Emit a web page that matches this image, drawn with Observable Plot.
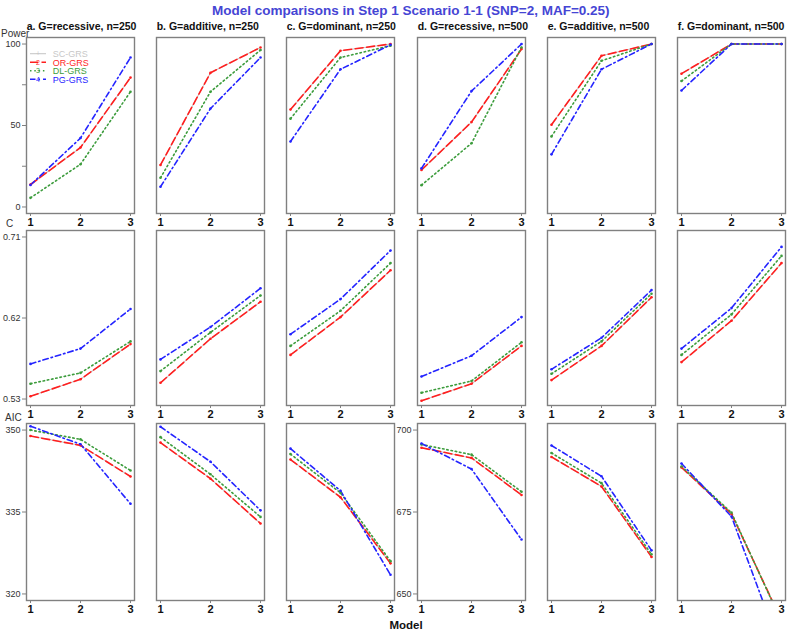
<!DOCTYPE html>
<html><head><meta charset="utf-8">
<script src="https://cdn.jsdelivr.net/npm/d3@7"></script>
<script src="https://cdn.jsdelivr.net/npm/@observablehq/plot@0.6"></script>
<style>
body{margin:0;background:#fff;font-family:"Liberation Sans",Arial,sans-serif;}
#wrap{position:relative;width:789px;height:630px;overflow:hidden;background:#fff;}
#wrap > svg, #wrap > div{position:absolute;}
</style></head><body><div id="wrap"></div>
<script>
// ---------- data ----------
const models = [1, 2, 3];
const panelTitles = ["a. G=recessive, n=250", "b. G=additive, n=250", "c. G=dominant, n=250",
                     "d. G=recessive, n=500", "e. G=additive, n=500", "f. G=dominant, n=500"];
const mainTitle = "Model comparisons in Step 1 Scenario 1-1 (SNP=2, MAF=0.25)";
const seriesNames = ["SC-GRS", "OR-GRS", "DL-GRS", "PG-GRS"];
const legendSymbols = ["+", "2", "3", "4"];
const rowLabels = ["Power", "C", "AIC"];
const xLabel = "Model";

// Power (per panel a..f, models 1..3)
const powerSC = [[13.8,36.5,79.4],[25.8,82.4,97.9],[59.8,95.9,100],[22.7,52.1,96.9],[50.5,92.8,100],[81.8,100,100]];
const powerOR = [[13.8,36.5,79.4],[25.8,82.4,97.9],[59.8,95.9,100],[22.7,52.1,96.9],[50.5,92.8,100],[81.8,100,100]];
const powerDL = [[5.6,26.2,70.7],[17.9,70.7,96.3],[54.2,91.7,99.0],[13.4,39.1,97.9],[43.3,89.7,100],[77.3,100,100]];
const powerPG = [[13.5,42.3,91.7],[12.4,60.4,91.7],[40.2,84.5,99.5],[23.7,71.1,100],[32.3,84.5,100],[71.5,100,100]];

// C statistic
const cSC = [[0.533,0.552,0.591],[0.548,0.597,0.638],[0.579,0.621,0.673],[0.528,0.547,0.589],[0.551,0.589,0.643],[0.571,0.617,0.681]];
const cOR = [[0.533,0.552,0.591],[0.548,0.597,0.638],[0.579,0.621,0.673],[0.528,0.547,0.589],[0.551,0.589,0.643],[0.571,0.617,0.681]];
const cDL = [[0.547,0.559,0.594],[0.561,0.604,0.645],[0.589,0.628,0.681],[0.537,0.550,0.593],[0.558,0.594,0.647],[0.579,0.624,0.689]];
const cPG = [[0.569,0.586,0.630],[0.574,0.610,0.653],[0.602,0.641,0.695],[0.555,0.578,0.621],[0.563,0.598,0.651],[0.586,0.631,0.699]];

// AIC
const aicSC = [[348.9,347.2,341.5],[347.7,341.1,332.9],[344.6,337.7,325.6],[694.6,691.5,680.2],[691.8,682.8,661.3],[688.6,674.4,641.9]];
const aicOR = [[348.9,347.2,341.5],[347.7,341.1,332.9],[344.6,337.7,325.6],[694.6,691.5,680.2],[691.8,682.8,661.3],[688.6,674.4,641.9]];
const aicDL = [[350.0,348.3,342.6],[348.7,341.9,334.1],[345.6,338.5,326.0],[695.6,692.5,681.2],[693.0,683.8,662.1],[688.9,674.8,641.5]];
const aicPG = [[350.7,347.4,336.5],[350.6,344.2,335.3],[346.6,338.9,323.5],[695.9,688.1,666.6],[695.3,685.9,663.3],[689.8,673.6,632.5]];

// axis ticks
const powerTicks = [0, 25, 50, 75, 100];
const powerTickLabels = [0, 50, 100];
const cTicks = [0.53, 0.62, 0.71];
const aicTicksSmall = [320, 335, 350];
const aicTicksLarge = [650, 675, 700];

// ---------- styles / layout ----------
const colors = ["#c8c8c8", "#ff1f1f", "#3c9c3c", "#2424ff"];
const dashes = [null, "8,3.5", "1.5,2.8", "5.5,3,1.5,3"];
const widths = [1.1, 1.6, 1.6, 1.6];
const boxLeft = [26, 156, 286, 417, 547, 677];
const boxW = 108;
const rowTop = [37, 230, 423];
const rowH = [176, 175, 177];
const mL = 34, mR = 8, mT = 4, mB = 24;
const fontFam = "'Liberation Sans', Arial, sans-serif";

const rows = [
  {sets: [powerSC, powerOR, powerDL, powerPG], domain: () => [-4, 104], ticks: powerTicks,
   fmt: d => powerTickLabels.includes(d) ? String(d) : ""},
  {sets: [cSC, cOR, cDL, cPG], domain: () => [0.5228, 0.7172], ticks: cTicks, fmt: d3.format(".2f")},
  {sets: [aicSC, aicOR, aicDL, aicPG], domain: p => p < 3 ? [318.8, 351.2] : [648, 702],
   ticks: p => p < 3 ? aicTicksSmall : aicTicksLarge, fmt: d => String(d)}
];

const wrap = document.getElementById("wrap");

rows.forEach((row, r) => {
  boxLeft.forEach((bl, p) => {
    const data = [];
    seriesNames.forEach((s, i) => models.forEach((m, j) =>
      data.push({series: s, si: i, model: m, value: row.sets[i][p][j]})));
    const showY = p === 0 || (r === 2 && p === 3);
    const ticks = typeof row.ticks === "function" ? row.ticks(p) : row.ticks;
    const marks = [];
    seriesNames.forEach((s, i) => {
      marks.push(Plot.lineY(data.filter(d => d.si === i), {
        x: "model", y: "value", stroke: colors[i], strokeWidth: widths[i],
        strokeDasharray: dashes[i] || undefined, clip: true}));
    });
    [1, 2, 3].forEach(i => {
      marks.push(Plot.dot(data.filter(d => d.si === i), {
        x: "model", y: "value", fill: colors[i], r: 1.3, clip: true}));
    });
    marks.push(Plot.frame({stroke: "#808080", strokeWidth: 1.4}));
    marks.push(Plot.axisX({ticks: models, tickFormat: d => String(d), tickSize: 3, tickPadding: 2,
      stroke: "#808080", fill: "#111", fontWeight: "bold", fontSize: 11, label: null}));
    if (showY) {
      marks.push(Plot.axisY({ticks, tickFormat: row.fmt, tickSize: 4, tickPadding: 2,
        stroke: "#808080", fill: "#333", fontSize: 9, label: null}));
    }
    const svg = Plot.plot({
      width: mL + boxW + mR, height: mT + rowH[r] + mB,
      marginLeft: mL, marginRight: mR, marginTop: mT, marginBottom: mB,
      style: {background: "transparent", fontFamily: fontFam, overflow: "visible"},
      x: {domain: [0.92, 3.08], axis: null, label: null},
      y: {domain: row.domain(p), axis: null, label: null},
      marks
    });
    svg.style.left = (bl - mL) + "px";
    svg.style.top = (rowTop[r] - mT) + "px";
    wrap.appendChild(svg);
  });
});

// ---------- text overlay ----------
const ov = d3.select(wrap).append("svg")
  .attr("width", 789).attr("height", 630)
  .style("left", "0px").style("top", "0px")
  .style("pointer-events", "none")
  .style("font-family", fontFam);

ov.append("text").attr("x", 212).attr("y", 15)
  .attr("font-size", 13.5).attr("font-weight", "bold").attr("fill", "#4545d4")
  .text(mainTitle);

panelTitles.forEach((t, p) => {
  ov.append("text").attr("x", boxLeft[p] + 0.7).attr("y", 30)
    .attr("font-size", 10.5).attr("font-weight", "bold").attr("fill", "#111").text(t);
});

const rowLabelPos = [[1, 36.5], [6, 226.5], [5, 420.7]];
rowLabels.forEach((t, r) => {
  ov.append("text").attr("x", rowLabelPos[r][0]).attr("y", rowLabelPos[r][1])
    .attr("font-size", 10).attr("fill", "#333").text(t);
});

ov.append("text").attr("x", 406).attr("y", 629).attr("text-anchor", "middle")
  .attr("font-size", 11.5).attr("font-weight", "bold").attr("fill", "#111").text(xLabel);

// legend inside panel a
const lg = ov.append("g");
seriesNames.forEach((s, i) => {
  const y = 53.7 + i * 8.5;
  lg.append("line").attr("x1", 30).attr("x2", 46).attr("y1", y).attr("y2", y)
    .attr("stroke", colors[i]).attr("stroke-width", widths[i])
    .attr("stroke-dasharray", dashes[i] || null);
  lg.append("text").attr("x", 38).attr("y", y + 2.6).attr("text-anchor", "middle")
    .attr("font-size", 7).attr("fill", colors[i]).text(legendSymbols[i]);
  lg.append("text").attr("x", 52.7).attr("y", y + 3.3)
    .attr("font-size", 9).attr("fill", colors[i]).text(s);
});
</script>
</body></html>
